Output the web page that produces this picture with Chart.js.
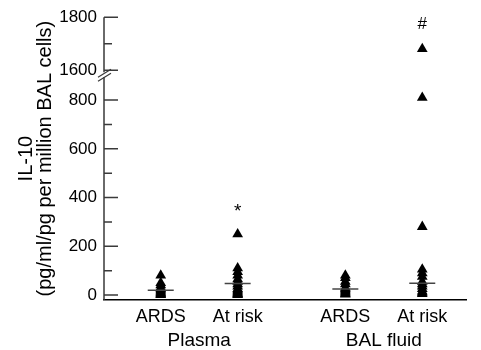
<!DOCTYPE html>
<html>
<head>
<meta charset="utf-8">
<script src="https://cdn.jsdelivr.net/npm/chart.js@4"></script>
<style>
  html, body { margin: 0; padding: 0; background: #fff; }
  #wrap { width: 481px; height: 350px; }
</style>
</head>
<body>
<div id="wrap"><canvas id="chart" width="481" height="350"></canvas></div>
<script>
// categories
const groupLabels = ["ARDS", "At risk", "ARDS", "At risk"];
const groupX = [1, 2, 3.4, 4.4];
const sampleLabels = ["Plasma", "BAL fluid"];
const sampleX = [1.5, 3.9];

// IL-10 values
const plasmaArds = [80, 50, 40, 30, 25, 20, 15, 10, 6, 3, 0];
const plasmaRisk = [250, 110, 95, 80, 65, 55, 45, 35, 25, 20, 15, 10, 5, 2, 0];
const balArds = [80, 70, 55, 45, 30, 25, 20, 15, 10, 5, 2];
const balRisk = [1680, 810, 280, 105, 90, 75, 55, 45, 35, 25, 15, 10, 5];
const medians = [20, 47, 25, 48];

// y axis (broken between 800 and 1600)
const yTickValues = [0, 200, 400, 600, 800, 1600, 1800];
const yMinorValues = [100, 300, 500, 700, 1700];
const noteText = ["*", "#"];
const noteX = [2, 4.4];
const noteY = [340, 1772];

// map a real value onto the broken axis
function toAxis(v) {
    if (v < 1600) return v;
    return 923 + (v - 1600) * 1.087;
}

function pts(xPos, values) {
    return values.map(v => ({ x: xPos, y: toAxis(v) }));
}

const FONT = "'Liberation Sans', Arial, Helvetica, sans-serif";

/* ===== ticks, broken axis and significance marks ===== */
const axisMarks = {
    id: "axisMarks",
    afterDraw(chart) {
        const { ctx, chartArea, scales } = chart;
        const y = scales.y;
        const x = scales.x;
        const x0 = chartArea.left;
        ctx.save();
        ctx.strokeStyle = "#3a3a3a";
        ctx.lineWidth = 1.5;

        const yTop = chartArea.top;
        const yBottom = chartArea.bottom;
        const yBrk = y.getPixelForValue(toAxis(1600));

        // axis line with gap
        ctx.beginPath();
        ctx.moveTo(x0, yTop);
        ctx.lineTo(x0, yBrk + 2);
        ctx.moveTo(x0, yBrk + 7);
        ctx.lineTo(x0, yBottom);
        ctx.stroke();

        // break slashes
        ctx.lineWidth = 1.2;
        ctx.beginPath();
        ctx.moveTo(x0 - 6, yBrk + 7);
        ctx.lineTo(x0 + 7, yBrk - 1);
        ctx.moveTo(x0 - 6, yBrk + 11);
        ctx.lineTo(x0 + 7, yBrk + 3);
        ctx.stroke();

        // ticks pointing inward
        ctx.lineWidth = 1.5;
        ctx.beginPath();
        yTickValues.forEach(v => {
            const p = y.getPixelForValue(toAxis(v));
            ctx.moveTo(x0, p);
            ctx.lineTo(x0 + 14, p);
        });
        yMinorValues.forEach(v => {
            const p = y.getPixelForValue(toAxis(v));
            ctx.moveTo(x0, p);
            ctx.lineTo(x0 + 8, p);
        });
        ctx.stroke();

        // significance marks
        ctx.fillStyle = "#000";
        ctx.textAlign = "center";
        ctx.textBaseline = "middle";
        noteText.forEach((t, i) => {
            ctx.font = (t === "*" ? "19px " : "17px ") + FONT;
            ctx.fillText(t, x.getPixelForValue(noteX[i]), y.getPixelForValue(toAxis(noteY[i])));
        });
        ctx.restore();
    }
};

const triangle = {
    pointStyle: "triangle",
    pointRadius: 6.2,
    pointHoverRadius: 6.2,
    backgroundColor: "#000",
    borderColor: "#000",
    borderWidth: 0,
    showLine: false
};

new Chart(document.getElementById("chart"), {
    type: "scatter",
    data: {
        datasets: [
            {
                label: "median",
                data: medians.map((m, i) => ({ x: groupX[i], y: toAxis(m) })),
                pointStyle: "line",
                pointRadius: 13,
                pointHoverRadius: 13,
                borderColor: "#444",
                borderWidth: 1.5
            },
            Object.assign({ label: "Plasma ARDS", data: pts(groupX[0], plasmaArds) }, triangle),
            Object.assign({ label: "Plasma At risk", data: pts(groupX[1], plasmaRisk) }, triangle),
            Object.assign({ label: "BAL ARDS", data: pts(groupX[2], balArds) }, triangle),
            Object.assign({ label: "BAL At risk", data: pts(groupX[3], balRisk) }, triangle)
        ]
    },
    options: {
        responsive: false,
        animation: false,
        layout: { padding: { top: 17, right: 0, bottom: 0, left: 0 } },
        plugins: { legend: { display: false }, tooltip: { enabled: false } },
        scales: {
            x: {
                type: "linear",
                position: "bottom",
                min: 0.2625,
                max: 4.975,
                afterBuildTicks: s => { s.ticks = groupX.map(v => ({ value: v })); },
                afterFit: s => { s.height = 26; },
                grid: { display: false, drawTicks: false },
                border: { display: true, color: "#000", width: 1.5 },
                ticks: {
                    padding: 6,
                    color: "#000",
                    font: { family: FONT, size: 18 },
                    callback: (v, i) => groupLabels[i]
                }
            },
            x2: {
                type: "linear",
                position: "bottom",
                min: 0.2625,
                max: 4.975,
                afterBuildTicks: s => { s.ticks = sampleX.map(v => ({ value: v })); },
                afterFit: s => { s.height = 24; },
                grid: { display: false, drawTicks: false },
                border: { display: false },
                ticks: {
                    padding: 3,
                    color: "#000",
                    font: { family: FONT, size: 19 },
                    callback: (v, i) => sampleLabels[i]
                }
            },
            y: {
                type: "linear",
                min: -20.5,
                max: 1140.4,
                afterBuildTicks: s => { s.ticks = yTickValues.map(v => ({ value: toAxis(v) })); },
                afterFit: s => { s.width = 104; },
                grid: { display: false, drawTicks: false },
                border: { display: false },
                ticks: {
                    padding: 7,
                    color: "#000",
                    font: { family: FONT, size: 17 },
                    callback: (v, i) => String(yTickValues[i])
                },
                title: {
                    display: true,
                    text: ["IL-10", "(pg/ml/pg per million BAL cells)"],
                    color: "#000",
                    font: { family: FONT, size: 20, lineHeight: 0.95 },
                    padding: { top: 17, bottom: 0 }
                }
            }
        }
    },
    plugins: [axisMarks]
});
</script>
</body>
</html>
